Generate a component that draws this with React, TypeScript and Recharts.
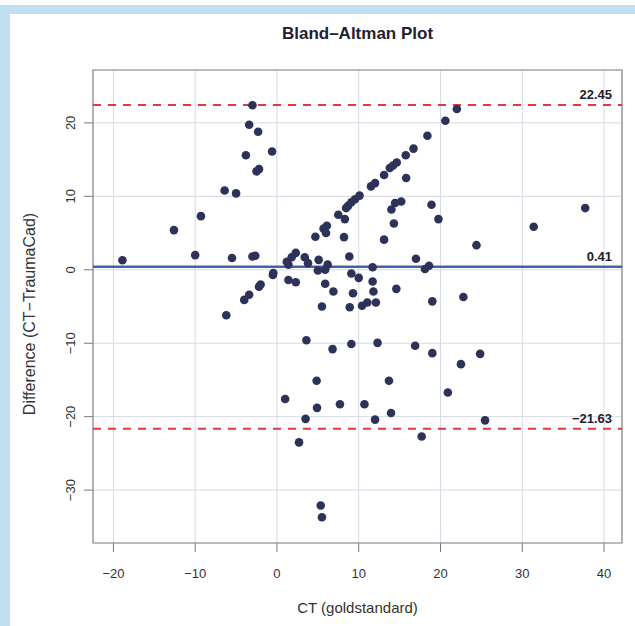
import {
  ScatterChart,
  Scatter,
  XAxis,
  YAxis,
  CartesianGrid,
  ReferenceLine,
  ReferenceArea,
} from "recharts";

// CT (goldstandard) value of each case
const ctValues = [
  -3.0, -3.4, -2.3, -3.8, -0.6, -2.5, -2.2, -6.4, -5.0, -9.3, -12.6, -18.9, -10.0, -5.5, -3.0, -2.65,
  -0.45, -0.5, -2.0, -2.2, -3.4, -4.0, -6.2, 1.2, 1.4, 1.8, 2.3, 4.7, 5.7, 6.1, 6.0, 7.5, 8.3, 8.45,
  8.7, 9.1, 9.55, 10.1, 11.5, 12.0, 13.1, 13.8, 14.2, 14.65, 15.75, 16.7, 18.4, 20.6, 22.0,
  8.2, 8.85, 15.8, 15.2, 14.45, 14.0, 14.3, 18.9, 19.75, 13.1, 24.4, 31.4, 37.7, 17.0, 11.7, 18.1, 18.6,
  3.4, 3.8, 5.1, 6.2, 5.9, 5.0, 9.1, 10.0, 1.4, 2.3, 5.9, 6.9, 9.3, 11.7, 11.8, 14.6, 19.0, 22.8,
  5.5, 8.9, 10.4, 11.05, 12.1,
  3.6, 6.8, 9.1, 12.3, 16.9, 19.0, 22.5, 24.85, 4.85, 13.7, 20.9, 1.0, 4.9, 7.7, 10.7, 13.95, 3.5,
  12.0, 25.45, 2.7, 17.7, 5.35, 5.5,
];

// Difference (CT - TraumaCad) of each case, same order
const diffValues = [
  22.4, 19.75, 18.8, 15.6, 16.1, 13.4, 13.7, 10.8, 10.4, 7.3, 5.4, 1.3, 2.0, 1.6, 1.8, 1.9,
  -0.45, -0.7, -2.0, -2.3, -3.4, -4.1, -6.2, 1.1, 0.7, 1.7, 2.3, 4.5, 5.6, 6.0, 5.0, 7.5, 6.9, 8.4,
  8.7, 9.2, 9.6, 10.1, 11.35, 11.8, 12.9, 13.85, 14.2, 14.6, 15.6, 16.5, 18.25, 20.3, 21.9,
  4.45, 1.8, 12.5, 9.3, 9.1, 8.2, 6.3, 8.85, 6.9, 4.1, 3.35, 5.85, 8.4, 1.5, 0.35, 0.1, 0.55,
  1.7, 0.9, 1.35, 0.7, 0.0, -0.1, -0.5, -1.1, -1.4, -1.7, -1.9, -2.95, -3.2, -1.6, -2.95, -2.6, -4.3, -3.7,
  -5.0, -5.1, -4.9, -4.45, -4.45,
  -9.6, -10.8, -10.1, -9.95, -10.35, -11.35, -12.85, -11.45, -15.1, -15.1, -16.7, -17.6, -18.8, -18.3,
  -18.3, -19.5, -20.3, -20.4, -20.5, -23.5, -22.7, -32.1, -33.7,
];

const meanDiff = 0.41;
const upperLimit = 22.45;
const lowerLimit = -21.63;

const xTicks = [-20, -10, 0, 10, 20, 30, 40];
const yTicks = [-30, -20, -10, 0, 10, 20];

const points = ctValues.map((ct, i) => ({ ct, diff: diffValues[i] }));

const xDomain = [-22.5, 42.2];
const yDomain = [-37.2, 27.2];

const font = "'Liberation Sans', Arial, Helvetica, sans-serif";
const fmt = (v: number) => String(v).replace("-", "\u2212");

const YTick = (props: any) => {
  const { x, y, payload } = props;
  const bx = x - 7;
  return (
    <text
      x={bx}
      y={y}
      transform={`rotate(-90, ${bx}, ${y})`}
      textAnchor="middle"
      fill="#333"
      fontSize={13}
      fontFamily={font}
    >
      {fmt(payload.value)}
    </text>
  );
};

const lineLabel = (text: string) => (props: any) => {
  const { viewBox } = props;
  return (
    <text
      x={viewBox.x + viewBox.width - 10}
      y={viewBox.y - 6}
      textAnchor="end"
      fill="#1d1d2b"
      fontSize={13}
      fontWeight="bold"
      fontFamily={font}
    >
      {text}
    </text>
  );
};

const Dot = (props: any) => (
  <circle cx={props.cx} cy={props.cy} r={4.3} fill="#2d3258" />
);

export default function App() {
  return (
    <div
      style={{
        position: "absolute",
        left: 0,
        top: 0,
        width: 635,
        height: 626,
        background: "#fff",
        fontFamily: font,
      }}
    >
      <div style={{ position: "absolute", left: 0, top: 5, width: 635, height: 9, background: "#bfe0f0" }} />
      <div style={{ position: "absolute", left: 0, top: 5, width: 10, height: 621, background: "#bfe0f0" }} />

      <ScatterChart
        width={635}
        height={626}
        margin={{ top: 70, right: 13, bottom: 43, left: 33 }}
        style={{ position: "absolute", left: 0, top: 0 }}
      >
        <CartesianGrid stroke="#d6d9e4" strokeWidth={1} />
        <XAxis
          type="number"
          dataKey="ct"
          domain={xDomain}
          ticks={xTicks}
          allowDataOverflow
          height={40}
          axisLine={false}
          tickSize={9}
          tickMargin={17}
          tickLine={{ stroke: "#777" }}
          tick={{ fill: "#333", fontSize: 13, fontFamily: font }}
          tickFormatter={fmt}
        />
        <YAxis
          type="number"
          dataKey="diff"
          domain={yDomain}
          ticks={yTicks}
          allowDataOverflow
          width={60}
          axisLine={false}
          tickSize={9}
          tickMargin={2}
          tickLine={{ stroke: "#777" }}
          tick={<YTick />}
        />
        <ReferenceArea
          x1={xDomain[0]}
          x2={xDomain[1]}
          y1={yDomain[0]}
          y2={yDomain[1]}
          fill="none"
          stroke="#8a8a8a"
          strokeWidth={1.2}
        />
        <ReferenceLine
          y={upperLimit}
          stroke="#e0393e"
          strokeWidth={2}
          strokeDasharray="8 7"
          label={lineLabel("22.45")}
        />
        <ReferenceLine
          y={lowerLimit}
          stroke="#e0393e"
          strokeWidth={2}
          strokeDasharray="8 7"
          label={lineLabel("\u221221.63")}
        />
        <ReferenceLine
          y={meanDiff}
          stroke="#4560b0"
          strokeWidth={2.5}
          label={lineLabel("0.41")}
        />
        <Scatter data={points} shape={<Dot />} isAnimationActive={false} />
      </ScatterChart>

      <div
        style={{
          position: "absolute",
          left: 93,
          width: 529,
          top: 24,
          textAlign: "center",
          fontSize: 17,
          fontWeight: "bold",
          color: "#1f2033",
          lineHeight: "20px",
        }}
      >
        Bland–Altman Plot
      </div>
      <div
        style={{
          position: "absolute",
          left: 93,
          width: 529,
          top: 599,
          textAlign: "center",
          fontSize: 15,
          color: "#333",
          lineHeight: "18px",
        }}
      >
        CT (goldstandard)
      </div>
      <div
        style={{
          position: "absolute",
          left: 30 - 150,
          width: 300,
          top: 314 - 9,
          height: 18,
          textAlign: "center",
          fontSize: 16,
          color: "#333",
          lineHeight: "18px",
          transform: "rotate(-90deg)",
        }}
      >
        Difference (CT−TraumaCad)
      </div>
    </div>
  );
}
